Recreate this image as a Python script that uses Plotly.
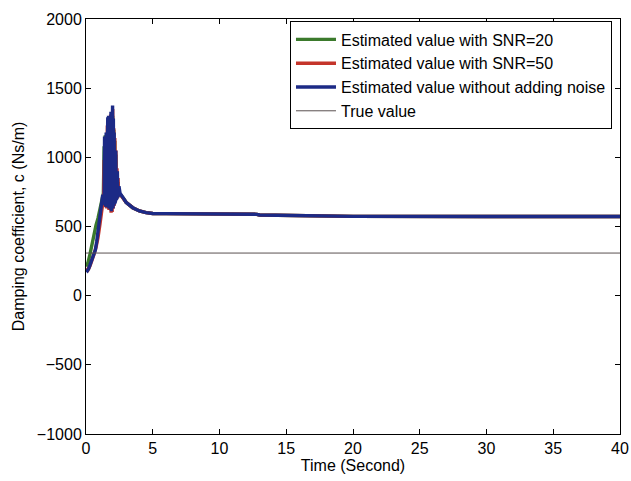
import plotly.graph_objects as go

# Early transient of the identified damping coefficient (Ns/m) for each case
t_snr20 = [0.00, 0.15, 0.30, 0.45, 0.60, 0.75, 0.90, 1.05, 1.20, 1.30, 1.36, 1.40, 1.44, 1.48,
           1.52, 1.56, 1.60, 1.64, 1.68, 1.72, 1.76, 1.80, 1.84, 1.88, 1.92, 1.96, 2.00, 2.04,
           2.08, 2.12, 2.16, 2.20, 2.24, 2.28, 2.32, 2.36, 2.40, 2.45, 2.50]
c_snr20 = [210, 240, 300, 380, 450, 510, 560, 620, 700, 740, 1080, 700, 1160, 680,
           1120, 660, 1180, 650, 1220, 640, 1190, 630, 1260, 620, 1240, 630, 1300, 650,
           1200, 670, 1120, 690, 1020, 700, 900, 710, 820, 760, 740]

t_snr50 = [0.00, 0.15, 0.30, 0.45, 0.60, 0.75, 0.90, 1.05, 1.20, 1.32, 1.36, 1.40, 1.44, 1.48,
           1.52, 1.56, 1.60, 1.64, 1.68, 1.72, 1.76, 1.80, 1.84, 1.88, 1.92, 1.96, 2.00, 2.04,
           2.08, 2.12, 2.16, 2.20, 2.24, 2.28, 2.32, 2.36, 2.40, 2.44, 2.50]
c_snr50 = [195, 185, 215, 250, 300, 350, 420, 520, 640, 715, 980, 670, 1120, 640,
           1080, 630, 1230, 650, 1280, 620, 1180, 640, 1310, 600, 1270, 605, 1350, 630,
           1210, 650, 1140, 675, 1050, 695, 920, 705, 850, 725, 740]

t_clean = [0.00, 0.10, 0.20, 0.30, 0.45, 0.55, 0.70, 0.80, 0.92, 1.10, 1.25, 1.30, 1.33, 1.36,
           1.39, 1.42, 1.45, 1.48, 1.51, 1.54, 1.57, 1.60, 1.63, 1.66, 1.69, 1.72, 1.75, 1.78,
           1.81, 1.84, 1.87, 1.90, 1.93, 1.96, 1.99, 2.02, 2.05, 2.08, 2.11, 2.14, 2.17, 2.20,
           2.23, 2.26, 2.29, 2.32, 2.35, 2.38, 2.41, 2.44, 2.47, 2.50, 2.55]
c_clean = [190, 180, 195, 222, 250, 272, 330, 390, 490, 634, 728, 720, 1000, 690,
           1150, 660, 1120, 650, 1180, 640, 1250, 660, 1290, 640, 1300, 630, 1240, 650,
           1310, 625, 1330, 610, 1300, 620, 1375, 630, 1280, 650, 1180, 665, 1120, 680,
           1050, 695, 960, 705, 900, 715, 840, 725, 790, 760, 740]

# Slow convergence after the transient (shared by all three estimates)
t_tail = [2.8, 3.0, 3.5, 4.0, 4.5, 5.0, 6.0, 8.0, 8.1, 12.8, 13.0, 15.0, 16.4, 20.0, 30.0, 40.0]
c_tail = [705, 675, 636, 612, 600, 594, 593, 592, 589, 588, 583, 580, 575, 573, 572, 572]

t_true = [0, 40]
c_true = [308, 308]

x_ticks = [0, 5, 10, 15, 20, 25, 30, 35, 40]
y_ticks = [-1000, -500, 0, 500, 1000, 1500, 2000]

font = "Liberation Sans, Arial, sans-serif"

fig = go.Figure()
fig.add_trace(go.Scatter(x=t_snr20 + t_tail, y=c_snr20 + c_tail, mode="lines",
                         name="Estimated value with SNR=20",
                         line=dict(color="#3b7a2c", width=3.4)))
fig.add_trace(go.Scatter(x=t_snr50 + t_tail, y=c_snr50 + c_tail, mode="lines",
                         name="Estimated value with SNR=50",
                         line=dict(color="#c4342a", width=3.4)))
fig.add_trace(go.Scatter(x=t_clean + t_tail, y=c_clean + c_tail, mode="lines",
                         name="Estimated value without adding noise",
                         line=dict(color="#1c2a86", width=3.4)))
fig.add_trace(go.Scatter(x=t_true, y=c_true, mode="lines", name="True value",
                         line=dict(color="#5a5050", width=1)))

axis_common = dict(
    showline=True, linecolor="black", linewidth=1, mirror="ticks",
    ticks="inside", ticklen=5, tickcolor="black", tickwidth=1,
    showgrid=False, zeroline=False, automargin=False,
    tickfont=dict(family=font, size=16, color="black"),
)

fig.update_layout(
    width=631, height=481,
    margin=dict(l=86, r=11, t=19, b=47, autoexpand=False),
    paper_bgcolor="white", plot_bgcolor="white",
    font=dict(family=font, size=16, color="black"),
    xaxis=dict(range=[0, 40], tickvals=x_ticks, ticktext=[str(v) for v in x_ticks],
               title=dict(text="Time (Second)", font=dict(family=font, size=16), standoff=1),
               **axis_common),
    yaxis=dict(range=[-1000, 2000], tickvals=y_ticks,
               ticktext=[str(v).replace("-", "\u2212") for v in y_ticks],
               title=dict(text="Damping coefficient, c (Ns/m)",
                          font=dict(family=font, size=16), standoff=8),
               **axis_common),
    legend=dict(x=0.985, y=0.994, xanchor="right", yanchor="top",
                bgcolor="white", bordercolor="black", borderwidth=1,
                font=dict(family=font, size=16, color="black"),
                tracegroupgap=0, itemwidth=40),
    showlegend=True,
)

fig.write_html("out.html")
